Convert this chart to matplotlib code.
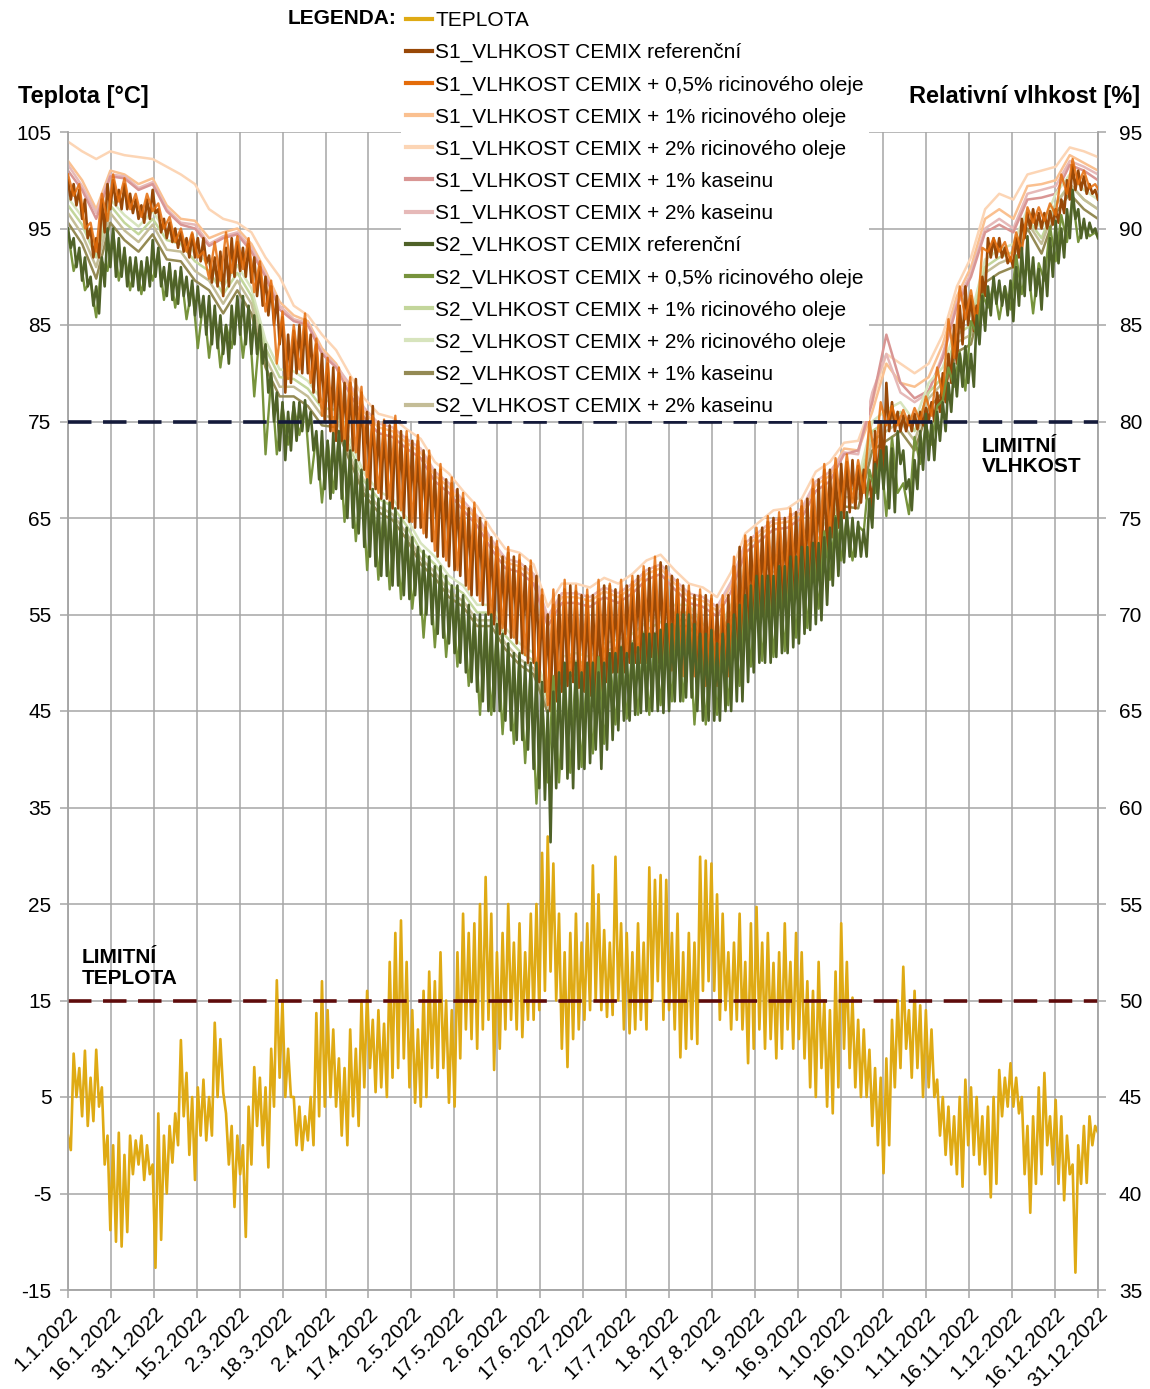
import numpy as np
import matplotlib
matplotlib.use("Agg")
import matplotlib.pyplot as plt
from matplotlib.lines import Line2D

plt.rcParams['font.family'] = ['Liberation Sans', 'DejaVu Sans']
plt.rcParams['axes.unicode_minus'] = False

# ---------------- DATA ----------------
DATE_LABELS = ["1.1.2022", "16.1.2022", "31.1.2022", "15.2.2022", "2.3.2022", "18.3.2022",
               "2.4.2022", "17.4.2022", "2.5.2022", "17.5.2022", "2.6.2022", "17.6.2022",
               "2.7.2022", "17.7.2022", "1.8.2022", "17.8.2022", "1.9.2022", "16.9.2022",
               "1.10.2022", "16.10.2022", "1.11.2022", "16.11.2022", "1.12.2022", "16.12.2022",
               "31.12.2022"]

# sample days
DAYS_2 = np.arange(0, 365, 2)     # 183 samples (pairs: day max at d, min at d+1)
DAYS_4 = np.arange(0, 365, 4)     # 92 samples (pairs: max at d, min at d+2)
DAYS_5 = np.arange(0, 366, 5)     # 74 samples

# Temperature [°C] (2-day highs / lows)
TEMP_HI = [1.0, 9.5, 8.0, 9.8, 7.0, 9.9, 6.0, 1.0, 0.0, 1.3,
           -1.0, 1.0, 0.5, 1.0, 0.0, -2.0, 3.3, 1.0, 2.0, 3.3,
           10.9, 7.5, 5.0, 6.0, 6.8, 5.0, 12.7, 11.0, 3.3, 2.0,
           1.0, 0.0, 4.0, 8.1, 7.0, 6.0, 10.0, 17.1, 15.0, 10.0,
           5.0, 4.0, 3.0, 5.0, 13.7, 17.0, 14.0, 12.0, 9.0, 8.0,
           12.0, 10.0, 15.0, 16.0, 13.0, 14.0, 12.6, 19.0, 22.0, 23.3,
           19.0, 14.0, 12.0, 16.0, 18.0, 17.0, 20.0, 15.0, 14.0, 20.0,
           24.0, 22.0, 23.0, 25.0, 27.8, 24.0, 20.0, 22.0, 25.0, 21.0,
           23.0, 20.0, 24.0, 25.0, 30.3, 32.0, 29.2, 24.0, 20.0, 22.0,
           24.0, 21.0, 23.0, 29.0, 26.0, 22.3, 21.0, 29.9, 23.0, 22.0,
           20.0, 23.0, 21.0, 28.8, 27.5, 28.0, 27.5, 22.0, 24.0, 20.0,
           22.0, 21.0, 29.9, 29.5, 29.2, 26.0, 24.0, 20.0, 21.0, 24.0,
           19.0, 23.0, 24.7, 21.0, 22.0, 18.9, 20.0, 23.0, 19.0, 22.0,
           20.0, 17.0, 16.0, 19.0, 15.0, 14.0, 18.0, 23.0, 19.0, 15.3,
           13.0, 12.0, 9.9, 8.0, 7.0, 9.0, 13.0, 15.0, 18.5, 14.0,
           16.0, 14.5, 14.0, 12.0, 6.8, 5.0, 4.0, 3.0, 5.0, 6.8,
           6.0, 5.0, 3.0, 4.0, 5.0, 7.8, 7.0, 8.5, 7.0, 5.0,
           2.0, 3.0, 6.0, 7.5, 3.0, 4.7, 3.0, 1.0, -2.0, 0.0,
           2.0, 3.0, 2.0]
TEMP_LO = [-0.5, 5.0, 3.0, 2.0, 2.5, 4.0, -2.0, -8.8, -10.0, -10.5,
           -9.0, -3.0, -2.0, -3.6, -3.0, -12.7, -9.8, -5.0, -1.8, 0.0,
           3.0, -1.0, -3.6, 1.0, 0.5, 1.0, 5.0, 5.5, -2.0, -6.4,
           -3.0, -9.5, -2.0, 2.0, 0.0, -2.3, 4.0, 7.0, 5.0, 5.0,
           0.0, -0.5, 0.5, 0.0, 3.0, 4.0, 5.0, 4.0, 1.0, 0.0,
           3.0, 2.0, 6.0, 8.0, 5.5, 6.0, 5.0, 7.0, 8.0, 9.0,
           6.0, 4.4, 4.0, 5.0, 8.0, 7.0, 8.0, 4.4, 4.0, 9.0,
           12.0, 11.0, 10.0, 12.0, 13.0, 7.8, 10.0, 12.0, 13.0, 12.0,
           11.2, 13.0, 13.0, 14.0, 16.0, 18.0, 15.0, 10.0, 8.1, 11.0,
           12.0, 13.0, 14.0, 15.0, 14.0, 13.3, 13.5, 15.0, 12.0, 11.6,
           12.0, 13.0, 12.0, 15.0, 17.0, 13.0, 14.0, 12.0, 9.1, 10.0,
           11.0, 10.5, 16.0, 17.0, 16.0, 13.0, 14.0, 12.0, 13.0, 12.0,
           8.5, 10.0, 12.0, 10.0, 11.0, 9.0, 10.0, 12.0, 10.0, 11.0,
           9.0, 6.0, 5.0, 8.0, 4.0, 3.3, 6.0, 10.0, 8.0, 6.0,
           5.0, 5.0, 2.0, 0.0, -2.9, 0.0, 6.0, 8.0, 10.0, 7.0,
           8.0, 5.0, 6.0, 5.0, 1.0, -1.0, -2.0, -3.0, -4.3, 0.0,
           -1.0, -2.0, -3.0, -5.4, -4.0, 3.0, 4.0, 4.0, 3.3, -3.0,
           -7.0, -4.0, -3.0, 0.0, -2.0, -4.0, -5.7, -3.0, -13.2, -4.0,
           -3.9, 0.0, 1.3]

# S1 reference humidity [%] (2-day highs / lows)
S1_REF_HI = [92.5, 92.3, 92.0, 91.5, 90.0, 89.5, 91.5, 92.3, 92.5, 92.0,
             92.3, 91.8, 91.5, 91.2, 91.5, 92.0, 91.0, 90.5, 90.3, 90.0,
             89.8, 89.5, 89.7, 89.5, 89.5, 88.6, 88.5, 88.8, 89.0, 89.5,
             89.3, 89.0, 89.2, 88.5, 88.0, 87.5, 87.0, 86.5, 85.4, 84.5,
             84.7, 85.0, 85.3, 84.5, 84.0, 83.5, 83.0, 82.8, 82.5, 82.0,
             82.0, 82.2, 81.5, 80.5, 80.8, 80.0, 80.0, 79.8, 80.0, 79.5,
             79.2, 79.0, 79.0, 78.5, 78.2, 77.5, 77.5, 77.0, 76.8, 76.5,
             76.0, 75.5, 75.5, 75.0, 74.5, 74.0, 73.5, 73.0, 73.2, 73.0,
             72.8, 72.5, 72.5, 72.0, 71.0, 70.0, 70.5, 71.0, 71.3, 71.5,
             71.2, 71.0, 71.0, 71.0, 70.8, 71.5, 71.5, 71.3, 71.0, 71.5,
             71.7, 72.0, 72.2, 72.4, 72.5, 72.7, 72.5, 72.0, 71.8, 71.5,
             71.2, 71.0, 71.0, 71.0, 70.8, 70.5, 70.5, 71.0, 72.5, 73.5,
             73.8, 74.0, 74.2, 74.5, 74.8, 75.0, 75.0, 75.0, 75.2, 75.3,
             75.6, 76.0, 76.5, 77.0, 77.5, 77.5, 77.5, 77.8, 77.9, 78.0,
             77.7, 77.5, 77.0, 79.5, 80.0, 82.0, 81.0, 80.5, 80.3, 80.3,
             80.4, 80.5, 80.7, 81.0, 81.5, 82.5, 83.5, 85.0, 86.0, 87.0,
             86.5, 86.0, 87.5, 89.5, 89.5, 89.5, 89.0, 88.5, 89.5, 90.5,
             90.8, 91.0, 90.8, 90.8, 90.9, 91.0, 91.5, 92.5, 93.3, 93.0,
             92.7, 92.3, 92.0]
S1_REF_LO = [91.5, 91.2, 90.5, 89.5, 88.5, 88.5, 89.8, 91.0, 91.2, 91.0,
             91.0, 90.8, 90.5, 90.3, 90.5, 90.8, 89.8, 89.5, 89.3, 89.0,
             88.8, 88.5, 88.5, 88.3, 88.2, 87.2, 87.0, 86.5, 87.0, 87.5,
             87.8, 87.5, 87.2, 86.5, 86.0, 85.5, 85.0, 84.0, 81.5, 82.0,
             82.5, 82.5, 82.5, 81.5, 81.0, 80.0, 79.5, 79.0, 79.0, 78.5,
             78.5, 78.0, 77.5, 76.5, 76.5, 76.0, 76.0, 75.5, 75.5, 75.0,
             74.8, 74.5, 74.5, 74.0, 73.8, 73.0, 73.0, 72.5, 72.3, 72.0,
             71.5, 71.0, 71.0, 70.5, 70.0, 69.5, 69.0, 69.0, 68.8, 68.5,
             68.0, 67.5, 67.5, 66.5, 66.0, 65.0, 65.5, 66.0, 66.3, 66.5,
             66.2, 66.0, 65.8, 65.5, 65.7, 66.5, 67.0, 67.0, 67.0, 67.5,
             67.5, 67.5, 67.5, 67.8, 67.5, 67.5, 67.3, 67.0, 66.8, 66.5,
             66.5, 66.5, 66.5, 66.3, 66.0, 66.0, 66.2, 66.5, 67.0, 68.0,
             69.0, 69.5, 69.8, 70.0, 70.0, 70.0, 70.2, 70.5, 70.8, 71.0,
             71.2, 71.5, 72.0, 72.3, 73.0, 74.0, 74.5, 75.0, 75.3, 75.5,
             75.8, 76.0, 75.5, 76.5, 77.5, 79.5, 79.5, 79.5, 79.5, 79.5,
             79.6, 79.8, 80.0, 80.0, 80.5, 81.0, 82.0, 83.0, 84.0, 85.0,
             84.7, 84.7, 86.5, 88.5, 88.5, 88.5, 88.2, 88.0, 88.5, 89.5,
             90.0, 90.0, 90.0, 90.0, 90.2, 90.3, 90.8, 91.5, 92.0, 92.0,
             91.8, 91.8, 91.5]

# S2 reference humidity [%] (2-day highs / lows)
S2_REF_HI = [90.0, 89.5, 89.0, 88.5, 87.5, 87.0, 88.5, 90.0, 90.0, 89.5,
             89.0, 88.5, 88.5, 88.3, 88.5, 89.4, 89.0, 88.0, 88.2, 87.8,
             88.0, 87.5, 87.3, 87.0, 86.5, 86.5, 86.0, 85.5, 85.0, 86.0,
             86.5, 86.5, 86.0, 85.5, 85.0, 84.0, 82.5, 81.5, 81.0, 80.5,
             81.0, 81.0, 81.1, 80.5, 79.5, 79.5, 79.0, 79.4, 79.5, 79.0,
             78.5, 78.0, 77.5, 77.0, 76.5, 76.0, 75.9, 75.8, 75.5, 75.0,
             74.5, 74.0, 73.5, 73.3, 73.0, 72.5, 72.5, 72.0, 71.5, 71.5,
             71.0, 70.5, 70.0, 70.0, 70.0, 70.0, 69.5, 69.0, 68.5, 68.0,
             68.0, 67.5, 67.5, 67.5, 66.5, 65.0, 66.0, 67.0, 67.5, 67.0,
             67.5, 67.0, 67.5, 67.5, 67.0, 67.5, 68.0, 68.0, 68.3, 68.0,
             68.5, 68.3, 69.0, 69.0, 69.0, 69.2, 69.5, 69.5, 70.0, 70.0,
             70.0, 69.5, 69.0, 69.0, 69.2, 68.5, 69.0, 69.5, 70.0, 70.5,
             71.0, 71.5, 72.0, 72.0, 72.0, 72.0, 72.5, 72.5, 73.0, 73.0,
             73.5, 73.5, 73.7, 73.7, 74.0, 74.5, 75.0, 75.3, 75.3, 75.0,
             74.8, 74.4, 76.0, 77.8, 78.5, 78.7, 78.6, 79.5, 78.5, 77.0,
             78.0, 79.5, 80.4, 80.0, 80.5, 81.0, 82.0, 83.0, 83.5, 83.9,
             83.5, 85.5, 86.5, 87.0, 87.5, 87.3, 87.0, 87.3, 88.0, 89.0,
             89.6, 88.5, 87.9, 88.5, 89.5, 90.4, 90.0, 91.0, 92.0, 91.0,
             90.5, 90.3, 90.0]
S2_REF_LO = [89.0, 88.0, 87.3, 87.0, 86.0, 85.6, 87.0, 88.0, 87.5, 87.5,
             87.0, 87.0, 86.8, 86.8, 87.0, 87.5, 87.0, 86.5, 86.3, 86.1,
             86.5, 86.0, 85.5, 85.4, 84.5, 84.0, 83.8, 83.5, 83.0, 84.0,
             84.5, 84.0, 83.5, 83.5, 83.0, 81.5, 80.0, 78.5, 78.0, 78.5,
             79.0, 79.5, 79.5, 78.5, 77.0, 76.5, 76.0, 76.5, 76.0, 75.0,
             74.5, 74.2, 73.5, 73.0, 72.5, 72.0, 72.0, 71.5, 71.5, 71.0,
             70.8, 71.0, 70.0, 70.0, 69.5, 69.0, 68.8, 68.5, 68.0, 67.5,
             67.0, 66.5, 66.0, 65.5, 65.0, 65.0, 65.0, 64.5, 64.0, 63.5,
             63.5, 63.0, 62.0, 61.0, 60.4, 58.2, 61.0, 62.0, 61.5, 61.0,
             62.0, 62.0, 62.3, 63.0, 62.0, 63.0, 63.5, 64.0, 64.5, 64.5,
             64.8, 64.9, 65.0, 65.0, 65.0, 64.9, 65.0, 65.5, 65.5, 65.7,
             65.7, 65.0, 64.5, 64.5, 64.5, 64.5, 65.0, 65.0, 65.5, 65.5,
             66.5, 67.0, 67.5, 67.5, 67.5, 67.8, 68.0, 68.0, 68.3, 68.5,
             69.0, 69.2, 69.5, 69.7, 70.5, 71.5, 72.0, 72.7, 73.0, 73.0,
             73.0, 73.0, 74.5, 76.0, 76.5, 75.5, 75.3, 77.8, 76.5, 75.4,
             76.5, 77.5, 78.0, 78.0, 79.0, 79.5, 80.5, 81.3, 81.8, 82.0,
             81.8, 84.0, 84.7, 85.5, 86.1, 86.0, 85.5, 85.2, 86.0, 86.5,
             86.8, 86.5, 85.8, 86.5, 87.5, 88.2, 88.5, 89.5, 90.5, 89.5,
             89.5, 89.8, 89.5]

# S1 + 0.5% castor oil (4-day highs / lows)
S1_05_HI = [92.8, 92.3, 90.3, 91.8, 92.8, 92.6, 91.8, 91.8, 91.3, 90.6,
            90.0, 89.8, 88.8, 89.3, 89.8, 89.6, 89.5, 88.3, 87.3, 85.7,
            85.0, 85.6, 84.3, 83.3, 82.8, 82.3, 81.8, 80.3, 80.1, 80.3,
            79.5, 79.3, 78.5, 77.8, 77.1, 76.3, 75.8, 74.8, 73.8, 73.5,
            73.1, 72.8, 71.3, 71.3, 71.8, 71.5, 71.3, 71.8, 71.6, 71.8,
            72.0, 72.5, 73.0, 72.3, 71.8, 71.5, 71.3, 71.0, 71.0, 73.0,
            74.1, 74.5, 75.1, 75.3, 75.5, 75.9, 77.0, 77.8, 78.1, 78.3,
            78.0, 80.0, 81.0, 80.8, 80.6, 80.7, 81.3, 82.8, 85.3, 87.0,
            86.8, 89.0, 89.5, 89.3, 89.8, 91.1, 91.1, 91.3, 92.8, 93.6,
            93.0, 92.3]
S1_05_LO = [91.7, 90.0, 88.8, 90.4, 91.4, 91.0, 90.6, 90.9, 90.0, 89.3,
            88.8, 88.5, 87.4, 87.3, 87.7, 87.9, 86.7, 85.7, 83.0, 82.2,
            82.7, 82.0, 80.3, 79.3, 78.9, 78.4, 76.8, 76.3, 75.8, 75.4,
            74.8, 74.2, 73.3, 72.8, 72.3, 71.3, 70.7, 69.8, 69.3, 68.8,
            67.9, 66.3, 65.3, 66.3, 66.7, 66.3, 66.0, 67.3, 67.3, 67.8,
            67.8, 67.9, 67.6, 67.1, 66.8, 66.8, 66.3, 66.3, 66.8, 68.3,
            69.8, 70.3, 70.5, 71.0, 71.3, 71.8, 72.6, 74.3, 75.3, 75.8,
            76.3, 78.0, 79.8, 79.8, 79.8, 80.0, 80.3, 81.3, 83.3, 85.3,
            85.0, 88.8, 88.8, 88.3, 88.8, 90.3, 90.4, 90.7, 91.8, 92.3,
            92.1, 91.8]

# S2 + 0.5% castor oil (4-day highs / lows)
S2_05_HI = [89.8, 88.8, 87.3, 88.3, 89.8, 88.8, 88.3, 88.3, 88.8, 88.0,
            87.8, 87.0, 86.3, 85.8, 85.0, 86.3, 85.8, 84.8, 82.3, 80.8,
            80.8, 80.8, 79.3, 79.0, 79.3, 78.3, 77.3, 76.3, 75.8, 75.3,
            74.3, 73.3, 72.8, 72.3, 71.3, 70.8, 69.8, 69.8, 69.3, 68.3,
            67.8, 67.3, 65.5, 66.8, 66.8, 67.3, 67.3, 67.8, 67.8, 68.1,
            68.3, 68.8, 69.0, 69.3, 69.8, 69.8, 68.8, 69.0, 68.8, 69.8,
            70.8, 71.8, 71.8, 72.3, 72.8, 73.3, 73.5, 74.3, 75.1, 75.1,
            74.6, 77.5, 78.4, 79.2, 76.8, 79.2, 79.8, 80.8, 82.8, 83.6,
            85.2, 86.6, 87.1, 87.0, 88.6, 88.3, 88.2, 90.1, 90.7, 91.6,
            90.2, 89.8]
S2_05_LO = [87.8, 86.8, 85.4, 87.8, 87.3, 86.8, 86.6, 87.3, 86.3, 85.9,
            85.3, 83.8, 83.3, 82.8, 83.8, 83.3, 81.3, 78.3, 78.3, 78.8,
            79.3, 76.8, 75.8, 76.3, 74.8, 73.8, 72.3, 71.8, 71.3, 70.8,
            70.3, 68.8, 68.3, 67.8, 67.3, 66.3, 64.8, 64.8, 63.8, 63.3,
            62.3, 60.2, 61.3, 61.3, 61.8, 62.1, 62.8, 63.3, 64.3, 64.6,
            64.8, 64.8, 65.3, 65.5, 65.5, 64.3, 64.3, 64.8, 65.3, 66.3,
            67.3, 67.6, 67.8, 68.1, 68.8, 69.3, 70.3, 71.8, 72.8, 72.8,
            74.3, 76.3, 75.1, 76.3, 75.2, 77.8, 78.8, 81.1, 81.8, 81.6,
            84.5, 85.9, 85.3, 85.8, 86.6, 85.6, 87.3, 88.3, 89.3, 89.3,
            89.6, 89.3]

# other mixtures (5-day values)
S1_1R = [93.5, 92.5, 91.0, 93.0, 92.8, 92.3, 92.6, 91.2, 90.5, 90.4,
         89.5, 89.8, 90.0, 89.2, 87.8, 86.2, 85.5, 85.2, 83.8, 83.0,
         81.7, 80.5, 79.7, 79.5, 78.9, 78.4, 77.2, 76.6, 75.7, 74.9,
         73.7, 72.7, 72.5, 71.9, 69.7, 70.9, 70.9, 70.7, 71.2, 70.9,
         71.4, 72.1, 72.4, 71.6, 70.9, 70.7, 70.2, 71.5, 73.5, 74.1,
         74.7, 74.8, 75.3, 76.7, 77.2, 78.6, 78.5, 80.5, 83.0, 82.0,
         81.8, 82.3, 84.0, 86.5, 88.0, 90.5, 91.0, 90.5, 92.2, 92.3,
         92.5, 93.8, 93.4, 93.0]
S1_2R = [94.5, 94.0, 93.6, 94.0, 93.8, 93.7, 93.6, 93.2, 92.8, 92.3,
         91.0, 90.5, 90.3, 89.8, 88.5, 87.5, 86.0, 85.5, 84.5, 83.7,
         82.4, 81.2, 80.4, 80.2, 79.6, 79.1, 77.9, 77.3, 76.4, 75.6,
         74.4, 73.4, 73.2, 72.6, 70.4, 71.6, 71.6, 71.4, 71.9, 71.6,
         72.1, 72.8, 73.1, 72.3, 71.6, 71.4, 70.9, 72.2, 74.2, 74.8,
         75.4, 75.5, 76.0, 77.4, 77.9, 78.9, 79.0, 81.0, 83.5, 83.0,
         82.5, 83.0, 84.5, 87.0, 88.5, 91.0, 91.8, 91.5, 92.8, 93.0,
         93.2, 94.2, 94.0, 93.7]
S1_1K = [93.0, 92.0, 90.5, 92.7, 92.6, 92.0, 92.3, 90.9, 90.2, 90.0,
         89.1, 89.5, 89.7, 88.8, 87.5, 85.8, 85.2, 85.0, 83.5, 82.8,
         81.4, 80.2, 79.4, 79.2, 78.6, 78.1, 76.9, 76.3, 75.4, 74.6,
         73.4, 72.4, 72.2, 71.6, 69.4, 70.6, 70.6, 70.4, 70.9, 70.6,
         71.1, 71.8, 72.1, 71.3, 70.6, 70.4, 69.9, 71.2, 73.2, 73.8,
         74.4, 74.5, 75.0, 76.4, 76.9, 78.3, 78.5, 81.0, 84.5, 82.0,
         81.2, 81.6, 83.3, 86.0, 87.5, 89.8, 90.2, 89.8, 91.5, 91.6,
         91.8, 93.3, 93.0, 92.5]
S1_2K = [93.3, 92.2, 90.8, 92.8, 92.7, 92.1, 92.4, 91.0, 90.3, 90.2,
         89.2, 89.6, 89.8, 89.0, 87.6, 86.0, 85.3, 85.1, 83.6, 82.9,
         81.9, 80.7, 79.9, 79.7, 79.1, 78.6, 77.4, 76.8, 75.9, 75.1,
         73.9, 72.9, 72.7, 72.1, 69.9, 71.1, 71.1, 70.9, 71.4, 71.1,
         71.6, 72.3, 72.6, 71.8, 71.1, 70.9, 70.4, 71.7, 73.7, 74.3,
         74.9, 75.0, 75.5, 76.9, 77.4, 78.4, 78.3, 81.5, 83.5, 81.5,
         81.0, 81.5, 83.5, 86.2, 87.7, 90.0, 90.5, 90.0, 91.8, 92.0,
         92.2, 93.5, 93.2, 92.8]
S2_1R = [91.2, 90.2, 88.5, 91.2, 90.3, 89.7, 90.5, 89.4, 89.2, 88.3,
         87.8, 86.6, 87.7, 86.5, 83.8, 82.3, 82.2, 81.7, 80.7, 80.6,
         78.6, 76.9, 76.0, 75.6, 74.6, 73.3, 72.6, 71.6, 71.1, 70.1,
         70.1, 68.9, 68.1, 67.6, 65.6, 67.4, 67.6, 67.4, 68.1, 68.3,
         68.6, 69.2, 69.6, 70.1, 70.1, 69.1, 68.6, 70.1, 71.1, 72.1,
         72.6, 72.9, 73.6, 73.8, 74.6, 76.5, 76.5, 79.5, 80.0, 80.5,
         79.5, 81.5, 82.3, 84.5, 85.0, 88.0, 88.5, 88.8, 90.5, 89.5,
         91.3, 92.3, 91.5, 91.0]
S2_2R = [91.6, 90.6, 89.0, 91.5, 90.7, 90.1, 90.9, 89.8, 89.6, 88.7,
         88.2, 87.0, 88.1, 86.9, 84.2, 82.7, 82.6, 82.1, 81.1, 81.0,
         79.0, 77.3, 76.4, 76.0, 75.0, 73.7, 73.0, 72.0, 71.5, 70.5,
         70.5, 69.3, 68.5, 68.0, 66.0, 67.8, 68.0, 67.8, 68.5, 68.7,
         69.0, 69.6, 70.0, 70.5, 70.5, 69.5, 69.0, 70.5, 71.5, 72.5,
         73.0, 73.3, 74.0, 74.2, 75.0, 76.9, 77.0, 80.0, 80.6, 81.0,
         80.0, 82.0, 82.8, 85.0, 85.5, 88.4, 88.9, 89.2, 91.0, 90.0,
         91.8, 92.8, 92.0, 91.5]
S2_1K = [90.3, 89.2, 87.4, 90.3, 89.4, 88.8, 89.7, 88.4, 88.3, 87.3,
         86.8, 85.6, 86.8, 85.6, 82.8, 81.3, 81.3, 80.8, 79.8, 79.7,
         77.9, 76.2, 75.3, 74.9, 73.9, 72.6, 71.9, 70.9, 70.4, 69.4,
         69.4, 68.2, 67.4, 66.9, 64.9, 66.7, 66.9, 66.7, 67.4, 67.6,
         67.9, 68.5, 68.9, 69.4, 69.4, 68.4, 67.9, 69.4, 70.4, 71.4,
         71.9, 72.2, 72.9, 73.1, 73.9, 75.6, 75.5, 78.5, 79.0, 79.5,
         78.5, 80.7, 81.5, 83.6, 84.0, 87.2, 87.7, 88.0, 90.0, 88.7,
         90.8, 91.8, 91.0, 90.5]
S2_2K = [90.8, 89.7, 88.0, 90.8, 89.9, 89.3, 90.2, 88.9, 88.8, 87.8,
         87.3, 86.1, 87.3, 86.1, 83.3, 81.8, 81.8, 81.3, 80.3, 80.2,
         78.2, 76.5, 75.6, 75.2, 74.2, 72.9, 72.2, 71.2, 70.7, 69.7,
         69.7, 68.5, 67.7, 67.2, 65.2, 67.0, 67.2, 67.0, 67.7, 67.9,
         68.2, 68.8, 69.2, 69.7, 69.7, 68.7, 68.2, 69.7, 70.7, 71.7,
         72.2, 72.5, 73.2, 73.4, 74.2, 76.1, 76.0, 79.0, 79.5, 80.0,
         79.0, 81.2, 82.0, 84.1, 84.5, 87.7, 88.2, 88.5, 90.3, 89.2,
         91.2, 92.3, 91.5, 91.0]

LABELS = ["TEPLOTA",
          "S1_VLHKOST CEMIX referenční",
          "S1_VLHKOST CEMIX + 0,5% ricinového oleje",
          "S1_VLHKOST CEMIX + 1% ricinového oleje",
          "S1_VLHKOST CEMIX + 2% ricinového oleje",
          "S1_VLHKOST CEMIX + 1% kaseinu",
          "S1_VLHKOST CEMIX + 2% kaseinu",
          "S2_VLHKOST CEMIX referenční",
          "S2_VLHKOST CEMIX + 0,5% ricinového oleje",
          "S2_VLHKOST CEMIX + 1% ricinového oleje",
          "S2_VLHKOST CEMIX + 2% ricinového oleje",
          "S2_VLHKOST CEMIX + 1% kaseinu",
          "S2_VLHKOST CEMIX + 2% kaseinu"]
COLORS = ["#DFAA14", "#984807", "#E46C0A", "#FAC090", "#FCD5B5", "#D99694", "#E6B9B8",
          "#4F6228", "#77933C", "#C3D69B", "#D7E4BD", "#948A54", "#C4BD97"]

LIMIT_RH = 80
LIMIT_T = 15


def zigzag(days, hi, lo, step):
    x = np.column_stack([days, days + step]).ravel()
    y = np.column_stack([np.asarray(hi, float), np.asarray(lo, float)]).ravel()
    return x, y


# ---------------- FIGURE ----------------
W, H = 1150, 1389
fig = plt.figure(figsize=(W / 100, H / 100), dpi=100)
L, R, T, B = 68, 1098, 132, 1290
ax = fig.add_axes([L / W, 1 - B / H, (R - L) / W, (B - T) / H])
ax2 = ax.twinx()

grid_c = "#A6A6A6"
ax.set_xlim(0, 365)
ax.set_ylim(-15, 105)
ax2.set_ylim(35, 95)
ax.set_yticks(np.arange(-15, 106, 10))
ax2.set_yticks(np.arange(35, 96, 5))
xt = np.linspace(0, 365, len(DATE_LABELS))
ax.set_xticks(xt)
ax.set_xticklabels(DATE_LABELS, rotation=45, ha="right", va="top", rotation_mode="anchor")
ax.grid(True, color=grid_c, linewidth=1.1)
ax.set_axisbelow(True)

for a in (ax, ax2):
    for s in a.spines.values():
        s.set_color(grid_c)
        s.set_linewidth(1.1)
    a.spines["top"].set_visible(False)
    a.tick_params(colors=grid_c, labelcolor="black", labelsize=15, length=6, width=1.1)
ax.tick_params(axis="y", pad=6)
ax.tick_params(axis="x", pad=4)
ax2.tick_params(axis="y", pad=9)

# temperature
tx, ty = zigzag(DAYS_2, TEMP_HI, TEMP_LO, 1)
ax.plot(tx, ty, color=COLORS[0], lw=1.9, zorder=3)
ax.axhline(LIMIT_T, color="#5E0B0B", lw=2.6, dashes=(6.5, 3.2), zorder=6)

# humidity series
for vals, c in [(S1_2R, COLORS[4]), (S1_1R, COLORS[3]), (S1_2K, COLORS[6]), (S1_1K, COLORS[5]),
                (S2_2R, COLORS[10]), (S2_1R, COLORS[9]), (S2_2K, COLORS[12]), (S2_1K, COLORS[11])]:
    ax2.plot(DAYS_5, vals, color=c, lw=1.8, zorder=2)

x, y = zigzag(DAYS_2, S1_REF_HI, S1_REF_LO, 1)
ax2.plot(x, y, color=COLORS[1], lw=1.9, zorder=3)
x, y = zigzag(DAYS_4, S1_05_HI, S1_05_LO, 2)
ax2.plot(x, y, color=COLORS[2], lw=1.7, zorder=3, alpha=0.85)
x, y = zigzag(DAYS_4, S2_05_HI, S2_05_LO, 2)
ax2.plot(x, y, color=COLORS[8], lw=1.7, zorder=3)
x, y = zigzag(DAYS_2, S2_REF_HI, S2_REF_LO, 1)
ax2.plot(x, y, color=COLORS[7], lw=1.9, zorder=4)

ax2.axhline(LIMIT_RH, color="#141A3A", lw=2.6, dashes=(6.5, 3.2), zorder=6)

# annotations
fig.text(982 / W, 1 - 437 / H, "LIMITNÍ\nVLHKOST", fontsize=15, fontweight="bold",
         ha="left", va="top", linespacing=1.1)
fig.text(82 / W, 1 - 948 / H, "LIMITNÍ\nTEPLOTA", fontsize=15, fontweight="bold",
         ha="left", va="top", linespacing=1.1)
fig.text(18 / W, 1 - 96 / H, "Teplota [°C]", fontsize=17, fontweight="bold", ha="left",
         va="center")
fig.text(1140 / W, 1 - 96 / H, "Relativní vlhkost [%]", fontsize=17, fontweight="bold",
         ha="right", va="center")
fig.text(288 / W, 1 - 18 / H, "LEGENDA:", fontsize=15, fontweight="bold", ha="left", va="center")

handles = [Line2D([], [], color=c, lw=3) for c in COLORS]
leg = fig.legend(handles, LABELS, loc="upper left", bbox_to_anchor=(401 / W, 1 - 6 / H),
                 fontsize=15, frameon=True, facecolor="white", edgecolor="none", framealpha=1,
                 handlelength=1.25, handletextpad=0.15, labelspacing=0.62, borderpad=0.25,
                 borderaxespad=0, fancybox=False)
leg.set_zorder(20)

fig.savefig("out.png", dpi=100)
